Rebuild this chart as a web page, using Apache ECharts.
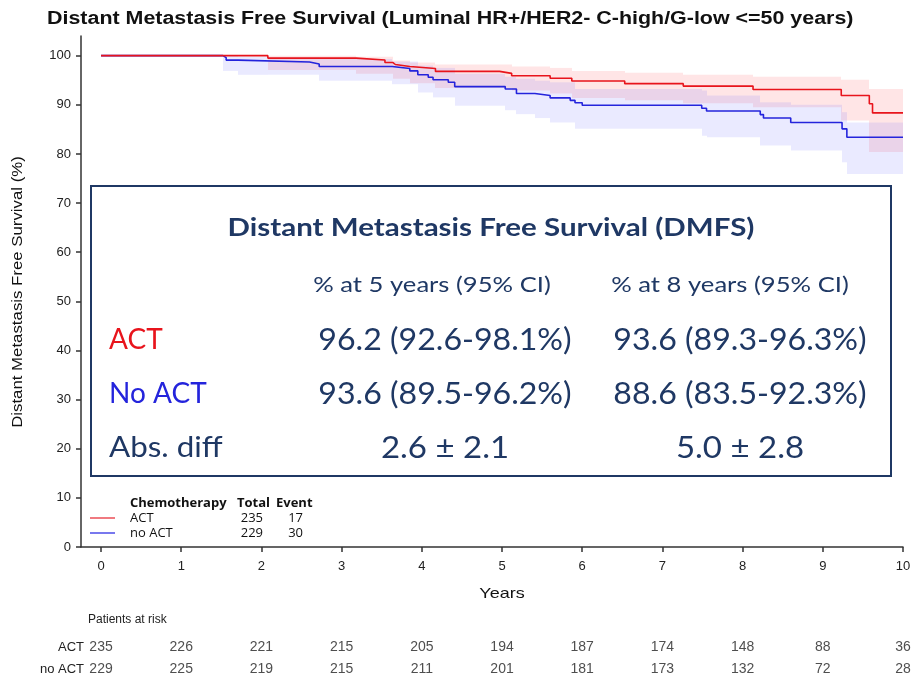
<!DOCTYPE html>
<html>
<head>
<meta charset="utf-8">
<script src="https://cdn.jsdelivr.net/npm/echarts@6/dist/echarts.min.js"></script>
<style>
  html, body { margin: 0; padding: 0; background: #fff; }
  #chart { width: 914px; height: 680px; }
</style>
</head>
<body>
<div id="chart"></div>
<script>
// Kaplan-Meier estimates (years, % free of distant metastasis)
const actTimes = [0, 2.08, 3.18, 3.54, 3.64, 3.67, 3.85, 4.17, 4.97, 5.12, 5.6, 5.87, 6.53, 7.26, 8.13, 9.23, 9.58, 9.62, 10.0];
const actSurv  = [100, 99.5, 99.1, 98.6, 98.2, 97.8, 97.4, 96.8, 96.4, 95.9, 95.4, 94.85, 94.3, 93.8, 93.1, 91.9, 90.2, 88.35, 88.35];

const noActTimes = [0, 1.52, 1.56, 1.71, 2.6, 2.72, 3.63, 3.85, 3.95, 4.08, 4.14, 4.33, 4.41, 5.04, 5.18, 5.41, 5.6, 5.85, 5.91, 6.0, 7.49, 7.55, 8.22, 8.26, 8.6, 9.24, 9.3, 10.0];
const noActSurv  = [100, 99.6, 99.1, 98.7, 98.3, 97.8, 97.4, 96.9, 96.1, 95.6, 95.1, 94.6, 93.7, 93.2, 92.3, 91.9, 91.4, 90.9, 90.4, 89.9, 89.3, 88.75, 88.0, 87.3, 86.4, 85.1, 83.4, 83.4];

// 95% confidence bands
const actBandTimes = [0, 2.08, 3.18, 3.64, 3.85, 4.17, 5.12, 5.6, 5.87, 6.53, 7.26, 8.13, 9.23, 9.58, 10.0];
const actBandHi    = [100, 100, 99.8, 99.0, 98.6, 98.2, 97.8, 97.5, 96.9, 96.5, 96.1, 95.7, 95.1, 93.2, 93.2];
const actBandLo    = [100, 97.1, 96.3, 95.3, 94.4, 93.4, 92.9, 92.3, 91.4, 90.9, 90.3, 89.5, 86.8, 80.4, 80.4];

const noActBandTimes = [0, 1.52, 1.71, 2.08, 2.72, 3.63, 3.95, 4.14, 4.41, 5.04, 5.18, 5.41, 5.6, 5.91, 7.49, 7.55, 8.22, 8.6, 9.24, 9.3, 10.0];
const noActBandHi    = [100, 100, 99.8, 99.6, 99.3, 98.8, 98.0, 97.5, 96.3, 95.7, 95.3, 94.9, 94.6, 93.2, 92.9, 91.9, 90.5, 90.0, 88.5, 86.4, 86.4];
const noActBandLo    = [100, 96.9, 96.1, 96.1, 94.9, 94.2, 92.5, 91.5, 89.8, 88.9, 88.1, 87.3, 86.4, 85.1, 83.7, 83.4, 81.7, 80.7, 78.3, 75.9, 75.9];

// axis ticks
const yearTicks = [0, 1, 2, 3, 4, 5, 6, 7, 8, 9, 10];
const pctTicks = [0, 10, 20, 30, 40, 50, 60, 70, 80, 90, 100];

// patients at risk
const riskRows = ['no ACT', 'ACT'];
const actAtRisk = [235, 226, 221, 215, 205, 194, 187, 174, 148, 88, 36];
const noActAtRisk = [229, 225, 219, 215, 211, 201, 181, 173, 132, 72, 28];

// legend table
const legendHeader = ['Chemotherapy', 'Total', 'Event'];
const legendGroups = ['ACT', 'no ACT'];
const legendTotals = [235, 229];
const legendEvents = [17, 30];

// inset summary table
const boxTitle = 'Distant Metastasis Free Survival (DMFS)';
const boxColumns = ['% at 5 years (95% CI)', '% at 8 years (95% CI)'];
const boxRowLabels = ['ACT', 'No ACT', 'Abs. diff'];
const boxAt5 = ['96.2 (92.6-98.1%)', '93.6 (89.5-96.2%)', '2.6 \u00b1 2.1'];
const boxAt8 = ['93.6 (89.3-96.3%)', '88.6 (83.5-92.3%)', '5.0 \u00b1 2.8'];

const RED = '#e8141c';
const BLUE = '#2424dc';
const NAVY = '#1f3864';
const AXIS = '#333';

const zip = (xs, ys) => xs.map((x, i) => [x, ys[i]]);

// band as step segments [t0, t1, lo, hi]
function bandSegments(times, lo, hi) {
  const out = [];
  for (let i = 0; i < times.length - 1; i++) {
    if (hi[i] > lo[i]) out.push([times[i], times[i + 1], lo[i], hi[i]]);
  }
  return out;
}

function bandSeries(name, times, lo, hi, color) {
  return {
    name: name, type: 'custom', silent: true, z: 1,
    data: bandSegments(times, lo, hi),
    encode: { x: [0, 1], y: [2, 3] },
    renderItem: (params, api) => {
      const a = api.coord([api.value(0), api.value(3)]);
      const b = api.coord([api.value(1), api.value(2)]);
      const x0 = Math.round(a[0]), x1 = Math.round(b[0]);
      return {
        type: 'rect',
        shape: { x: x0, y: a[1], width: x1 - x0, height: b[1] - a[1] },
        style: { fill: color }
      };
    }
  };
}

const chart = echarts.init(document.getElementById('chart'));

const boxTexts = [];
boxTexts.push({
  type: 'text', x: 491, y: 228, z: 20, scaleX: 1.18,
  style: { text: boxTitle, fill: NAVY, font: 'bold 25px Lato', align: 'center', verticalAlign: 'middle' }
});
const colCenters = [445, 740];
const headCenters = [432, 730];
const rowY = [340, 394, 448];
const rowColors = [RED, BLUE, NAVY];
boxColumns.forEach((c, i) => boxTexts.push({
  type: 'text', x: headCenters[i], y: 285, z: 20, scaleX: 1.22,
  style: { text: c, fill: NAVY, font: '21px Lato', align: 'center', verticalAlign: 'middle' }
}));
boxRowLabels.forEach((r, i) => {
  boxTexts.push({
    type: 'text', x: 109, y: rowY[i], z: 20, scaleX: i === 2 ? 1.12 : 1,
    style: { text: r, fill: rowColors[i], font: '28px Lato', align: 'left', verticalAlign: 'middle' }
  });
  [boxAt5[i], boxAt8[i]].forEach((v, j) => boxTexts.push({
    type: 'text', x: colCenters[j], y: rowY[i], z: 20, scaleX: i === 2 ? 1.1 : 1.07,
    style: { text: v, fill: NAVY, font: '30px Lato', align: 'center', verticalAlign: 'middle' }
  }));
});

const legendTexts = [];
const legX = [130, 237, 276];
legendHeader.forEach((h, i) => legendTexts.push({
  type: 'text', x: legX[i], y: 503, z: 20,
  style: { text: h, fill: '#111', font: 'bold 13px "Open Sans"', verticalAlign: 'middle' }
}));
legendGroups.forEach((g, i) => {
  const y = 518 + i * 15;
  legendTexts.push({
    type: 'line', z: 20, shape: { x1: 90, y1: y, x2: 115, y2: y },
    style: { stroke: i === 0 ? '#f07a80' : '#7878ee', lineWidth: 2 }
  });
  legendTexts.push({
    type: 'text', x: 130, y: y, z: 20,
    style: { text: g, fill: '#111', font: '13px "Open Sans"', verticalAlign: 'middle' }
  });
  legendTexts.push({
    type: 'text', x: 263, y: y, z: 20,
    style: { text: String(legendTotals[i]), fill: '#111', font: '13px "Open Sans"', align: 'right', verticalAlign: 'middle' }
  });
  legendTexts.push({
    type: 'text', x: 303, y: y, z: 20,
    style: { text: String(legendEvents[i]), fill: '#111', font: '13px "Open Sans"', align: 'right', verticalAlign: 'middle' }
  });
});

const riskData = [];
yearTicks.forEach((t, i) => {
  riskData.push([t, 'ACT', actAtRisk[i]]);
  riskData.push([t, 'no ACT', noActAtRisk[i]]);
});

const option = {
  animation: false,
  grid: [
    { left: 81, right: 11, top: 36, bottom: 133 },
    { left: 81, right: 11, top: 636, height: 44 }
  ],
  xAxis: [
    {
      type: 'value', gridIndex: 0, min: -0.25, max: 10,
      axisLine: { show: true, onZero: false, lineStyle: { color: AXIS, width: 1.5 } },
      axisTick: { show: true, customValues: yearTicks, length: 5, lineStyle: { color: AXIS, width: 1.5 } },
      axisLabel: { customValues: yearTicks, color: '#222', fontSize: 13, fontFamily: 'Liberation Sans', margin: 13 },
      splitLine: { show: false }
    },
    { type: 'value', gridIndex: 1, min: -0.25, max: 10, show: false }
  ],
  yAxis: [
    {
      type: 'value', gridIndex: 0, min: 0, max: 104,
      axisLine: { show: true, onZero: false, lineStyle: { color: AXIS, width: 1.5 } },
      axisTick: { show: true, customValues: pctTicks, length: 5, lineStyle: { color: AXIS, width: 1.5 } },
      axisLabel: { customValues: pctTicks, color: '#222', fontSize: 13, fontFamily: 'Liberation Sans', margin: 10 },
      splitLine: { show: false }
    },
    {
      type: 'category', gridIndex: 1, data: riskRows,
      axisLine: { show: false }, axisTick: { show: false },
      axisLabel: { color: '#222', fontSize: 13, fontFamily: 'Liberation Sans', margin: -3 }
    }
  ],
  series: [
    bandSeries('actBand', actBandTimes, actBandLo, actBandHi, 'rgba(255,70,80,0.14)'),
    bandSeries('noActBand', noActBandTimes, noActBandLo, noActBandHi, 'rgba(90,90,255,0.13)'),
    {
      name: 'no ACT', type: 'line', step: 'end', symbol: 'none', z: 3,
      data: zip(noActTimes, noActSurv), lineStyle: { color: BLUE, width: 1.6 }
    },
    {
      name: 'ACT', type: 'line', step: 'end', symbol: 'none', z: 4,
      data: zip(actTimes, actSurv), lineStyle: { color: RED, width: 1.6 }
    },
    {
      name: 'at risk', type: 'scatter', xAxisIndex: 1, yAxisIndex: 1,
      symbolSize: 1, itemStyle: { color: 'rgba(0,0,0,0)' }, clip: false,
      data: riskData,
      label: {
        show: true, position: 'inside', color: '#222', fontSize: 14, fontFamily: 'Liberation Sans',
        formatter: p => String(p.value[2])
      }
    }
  ],
  graphic: [
    {
      type: 'text', x: 47, y: 19, z: 20, scaleX: 1.19,
      style: {
        text: 'Distant Metastasis Free Survival (Luminal HR+/HER2- C-high/G-low <=50 years)',
        fill: '#111', font: 'bold 18px "Liberation Sans"', verticalAlign: 'middle'
      }
    },
    {
      type: 'text', x: 18, y: 292, z: 20, rotation: Math.PI / 2, scaleX: 1.2,
      style: {
        text: 'Distant Metastasis Free Survival (%)',
        fill: '#111', font: '14px "Liberation Sans"', align: 'center', verticalAlign: 'middle'
      }
    },
    {
      type: 'rect', z: 10, shape: { x: 91, y: 186, width: 800, height: 290 },
      style: { fill: '#fff', stroke: NAVY, lineWidth: 2 }
    },
    ...boxTexts,
    ...legendTexts,
    {
      type: 'text', x: 502, y: 594, z: 20, scaleX: 1.2,
      style: { text: 'Years', fill: '#111', font: '15px "Liberation Sans"', align: 'center', verticalAlign: 'middle' }
    },
    {
      type: 'text', x: 88, y: 620, z: 20,
      style: { text: 'Patients at risk', fill: '#222', font: '12px "Liberation Sans"', verticalAlign: 'middle' }
    }
  ]
};

chart.setOption(option);
</script>
</body>
</html>
